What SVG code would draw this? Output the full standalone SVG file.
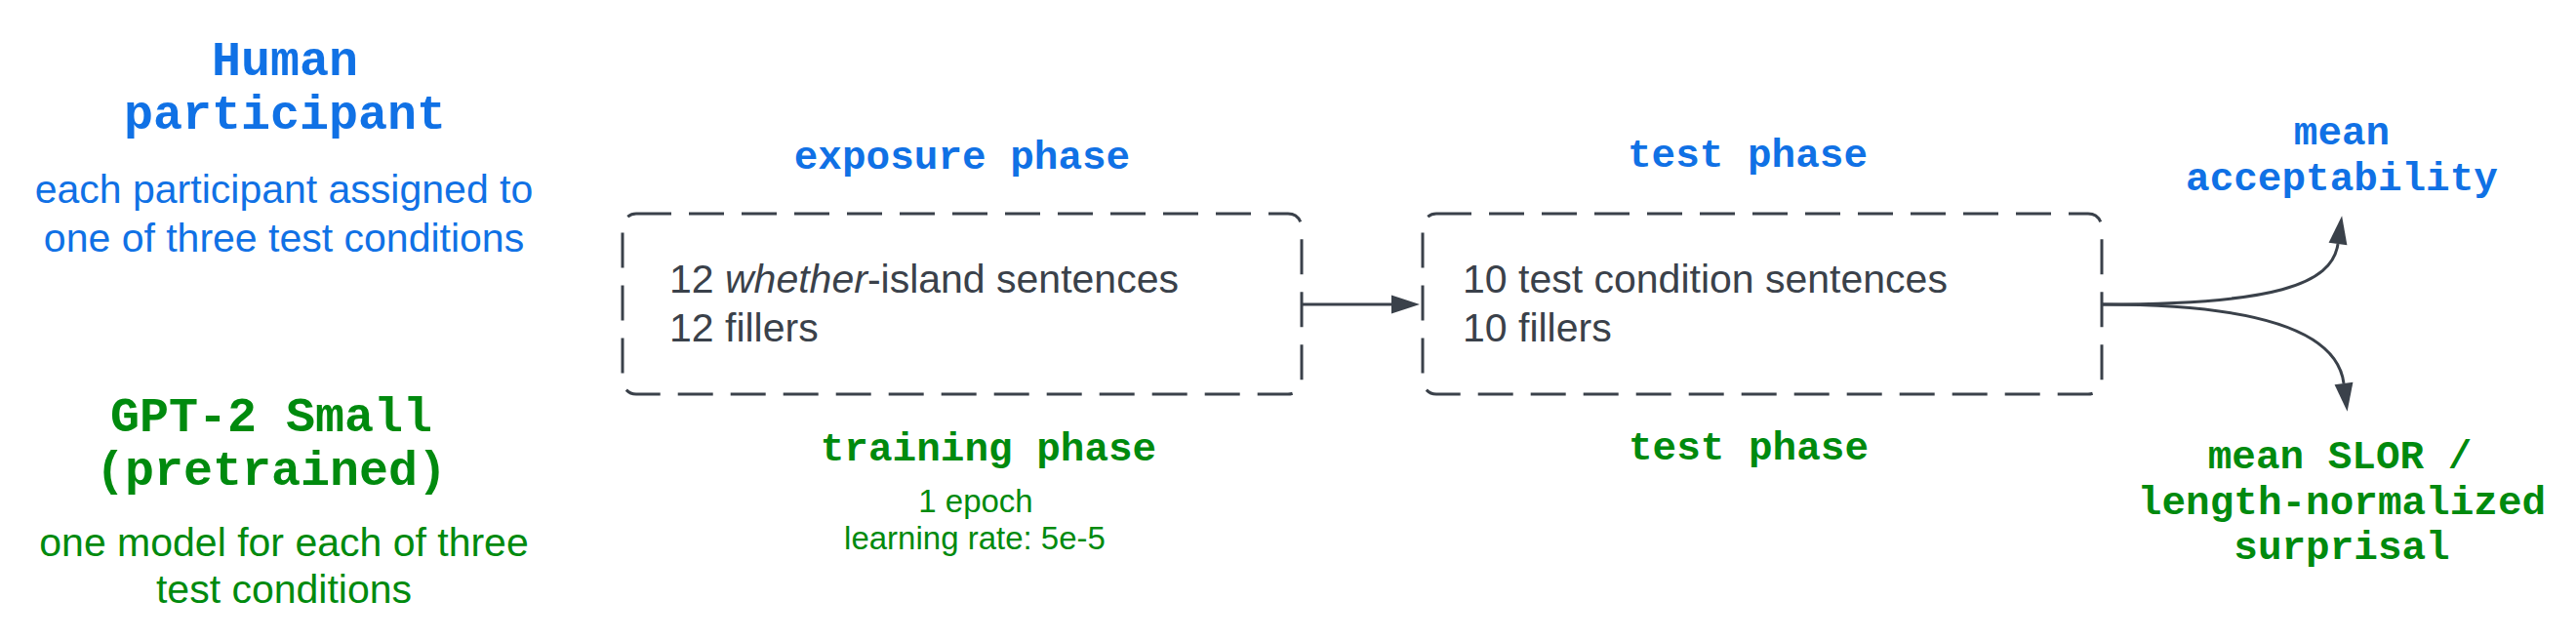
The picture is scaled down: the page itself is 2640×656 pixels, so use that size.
<svg xmlns="http://www.w3.org/2000/svg" width="2640" height="656" viewBox="0 0 2640 656">
<style>
  .mono { font-family: "Liberation Mono", "DejaVu Sans Mono", monospace; font-weight: bold; text-anchor: middle; }
  .sans { font-family: "Liberation Sans", Arial, sans-serif; }
  .blue { fill: #1071e5; }
  .green { fill: #008a0e; }
  .dark { fill: #3a414a; }
  .h50 { font-size: 50px; }
  .h41 { font-size: 41px; }
  .box { fill: none; stroke: #3a414a; stroke-width: 3; stroke-dasharray: 36 18; }
  .conn { fill: none; stroke: #3a414a; stroke-width: 3; }
</style>
<defs>
  <marker id="arrow" markerUnits="userSpaceOnUse" markerWidth="30" markerHeight="20" refX="0" refY="9.5" orient="auto" overflow="visible">
    <path d="M0,0 L29,9.5 L0,19 z" fill="#3a414a"/>
  </marker>
</defs>
<rect width="2640" height="656" fill="#ffffff"/>

<g id="human">
  <text class="mono h50 blue" x="292" y="77">Human</text>
  <text class="mono h50 blue" x="292" y="132">participant</text>
  <text class="sans blue" font-size="41" text-anchor="middle" x="291" y="208">each participant assigned to</text>
  <text class="sans blue" font-size="41" text-anchor="middle" x="291" y="258">one of three test conditions</text>
</g>

<g id="gpt2">
  <text class="mono h50 green" x="278" y="442">GPT-2 Small</text>
  <text class="mono h50 green" x="278" y="497">(pretrained)</text>
  <text class="sans green" font-size="41" text-anchor="middle" x="291" y="570">one model for each of three</text>
  <text class="sans green" font-size="41" text-anchor="middle" x="291" y="618">test conditions</text>
</g>

<g id="exposure">
  <text class="mono h41 blue" x="986" y="173">exposure phase</text>
  <rect class="box" x="638" y="219" width="696" height="185" rx="14" ry="14"/>
  <text class="sans dark" font-size="41" x="686" y="300">12 <tspan font-style="italic">whether</tspan>-island sentences</text>
  <text class="sans dark" font-size="41" x="686" y="350">12 fillers</text>
  <text class="mono h41 green" x="1013" y="472">training phase</text>
  <text class="sans green" font-size="33" text-anchor="middle" x="1000" y="525">1 epoch</text>
  <text class="sans green" font-size="33" text-anchor="middle" x="999" y="563">learning rate: 5e-5</text>
</g>

<g id="test">
  <text class="mono h41 blue" x="1791" y="171">test phase</text>
  <rect class="box" x="1458" y="219" width="696" height="185" rx="14" ry="14"/>
  <text class="sans dark" font-size="41" x="1499" y="300">10 test condition sentences</text>
  <text class="sans dark" font-size="41" x="1499" y="350">10 fillers</text>
  <text class="mono h41 green" x="1792" y="471">test phase</text>
</g>

<g id="acceptability">
  <text class="mono h41 blue" x="2400" y="148">mean</text>
  <text class="mono h41 blue" x="2400" y="195">acceptability</text>
</g>

<g id="slor">
  <text class="mono h41 green" x="2398" y="480">mean SLOR /</text>
  <text class="mono h41 green" x="2400" y="527">length-normalized</text>
  <text class="mono h41 green" x="2400" y="573">surprisal</text>
</g>

<g id="connectors">
  <path class="conn" d="M1335,312 L1426,312" marker-end="url(#arrow)"/>
  <path class="conn" d="M2155,312 C2330,312 2390,292 2396,250" marker-end="url(#arrow)"/>
  <path class="conn" d="M2155,312 C2330,312 2396,345 2402,393" marker-end="url(#arrow)"/>
</g>
</svg>
